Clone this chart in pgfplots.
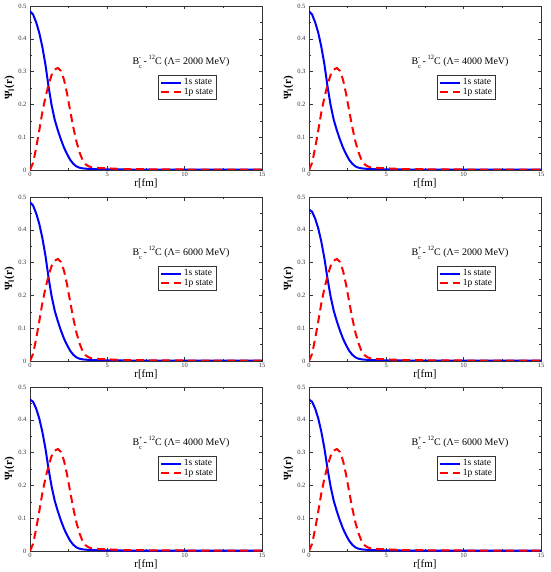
\documentclass[border=0pt]{standalone}
\usepackage{fontspec}
\setmainfont{Liberation Serif}
\usepackage{pgfplots}
\usepackage{pgfplotstable}
\pgfplotsset{compat=1.18}

\pgfplotstableread{
r psi
0.0 0.484
0.2 0.474
0.4 0.450
0.6 0.418
0.8 0.375
1.0 0.321
1.2 0.254
1.4 0.197
1.6 0.153
1.8 0.121
2.0 0.093
2.2 0.068
2.4 0.048
2.6 0.031
2.8 0.019
3.0 0.011
3.2 0.007
3.4 0.005
3.6 0.004
4.0 0.003
5.0 0.002
6.0 0.0015
8.0 0.001
10.0 0.001
15.0 0.001
}\sminus

\pgfplotstableread{
r psi
0.0 0.462
0.2 0.455
0.4 0.434
0.6 0.404
0.8 0.363
1.0 0.312
1.2 0.250
1.4 0.196
1.6 0.153
1.8 0.121
2.0 0.093
2.2 0.068
2.4 0.048
2.6 0.031
2.8 0.019
3.0 0.011
3.2 0.007
3.4 0.005
3.6 0.004
4.0 0.003
5.0 0.002
6.0 0.0015
8.0 0.001
10.0 0.001
15.0 0.001
}\splus

\pgfplotstableread{
r psi
0.0 0.000
0.2 0.022
0.4 0.068
0.6 0.121
0.8 0.177
1.0 0.222
1.2 0.260
1.4 0.290
1.6 0.306
1.8 0.311
2.0 0.302
2.2 0.275
2.4 0.232
2.6 0.180
2.8 0.130
3.0 0.087
3.2 0.054
3.4 0.030
3.6 0.017
3.8 0.011
4.0 0.008
4.5 0.006
5.0 0.005
6.0 0.003
8.0 0.002
10.0 0.0015
15.0 0.001
}\pstate

\pgfplotsset{
  panel/.style={
    scale only axis, width=232pt, height=164pt,
    anchor=north west,
    xmin=0, xmax=15, ymin=0, ymax=0.5,
    xtick={0,5,10,15}, ytick={0,0.1,0.2,0.3,0.4,0.5},
    yticklabels={0,0.1,0.2,0.3,0.4,0.5},
    minor x tick num=1, minor y tick num=1,
    tick align=inside, major tick length=3.5pt, minor tick length=2pt,
    tick style={black!80, line width=0.4pt},
    axis line style={line width=0.5pt, black!80},
    /pgf/number format/assume math mode=true,
    tick label style={font=\fontsize{6.5}{7}\selectfont, black!80},
    xticklabel style={yshift=1pt},
    xlabel={r[fm]},
    ylabel={\bfseries Ψ\textsubscript{l}(r)},
    xlabel style={font=\fontsize{11}{12}\selectfont, at={(axis description cs:0.5,-0.03)}, anchor=north},
    ylabel style={font=\fontsize{11}{12}\selectfont, at={(axis description cs:-0.088,0.5)}, anchor=center},
    legend cell align=left,
    legend image code/.code={\draw[#1] (0pt,0pt) -- (20pt,0pt);},
    legend style={at={(axis cs:8.28,0.29)}, anchor=north west,
      font=\fontsize{9.5}{10}\selectfont, draw=black!80, line width=0.5pt,
      inner sep=1.5pt, row sep=-2pt},
  },
  s1/.style={blue, line width=2pt},
  p1/.style={red, line width=2pt, dash pattern=on 8pt off 5pt},
}

\newcommand{\lab}[2]{B\rlap{\raisebox{1.1ex}{\fontsize{6.5}{6.5}\selectfont #1}}\raisebox{-0.7ex}{\fontsize{6.5}{6.5}\selectfont c}\,-\,\raisebox{1.1ex}{\fontsize{6.5}{6.5}\selectfont 12}C (Λ= #2 MeV)}

\newcommand{\panel}[5]{%
\begin{axis}[panel, at={(#1,#2)}]
\addplot[s1] table[x=r,y=psi]{#3};
\addlegendentry{1s state}
\addplot[p1] table[x=r,y=psi]{\pstate};
\addlegendentry{1p state}
\node[anchor=west, font=\fontsize{10}{11}\selectfont] at (axis cs:6.4,0.33) {\lab{#4}{#5}};
\end{axis}}

\begin{document}
\begin{tikzpicture}
\useasboundingbox (0pt,0pt) rectangle (550pt,-572pt);
\panel{30pt}{-6pt}{\sminus}{-}{2000}
\panel{309pt}{-6pt}{\sminus}{-}{4000}
\panel{30pt}{-197pt}{\sminus}{-}{6000}
\panel{309pt}{-197pt}{\splus}{+}{2000}
\panel{30pt}{-387pt}{\splus}{+}{4000}
\panel{309pt}{-387pt}{\splus}{+}{6000}
\end{tikzpicture}
\end{document}
